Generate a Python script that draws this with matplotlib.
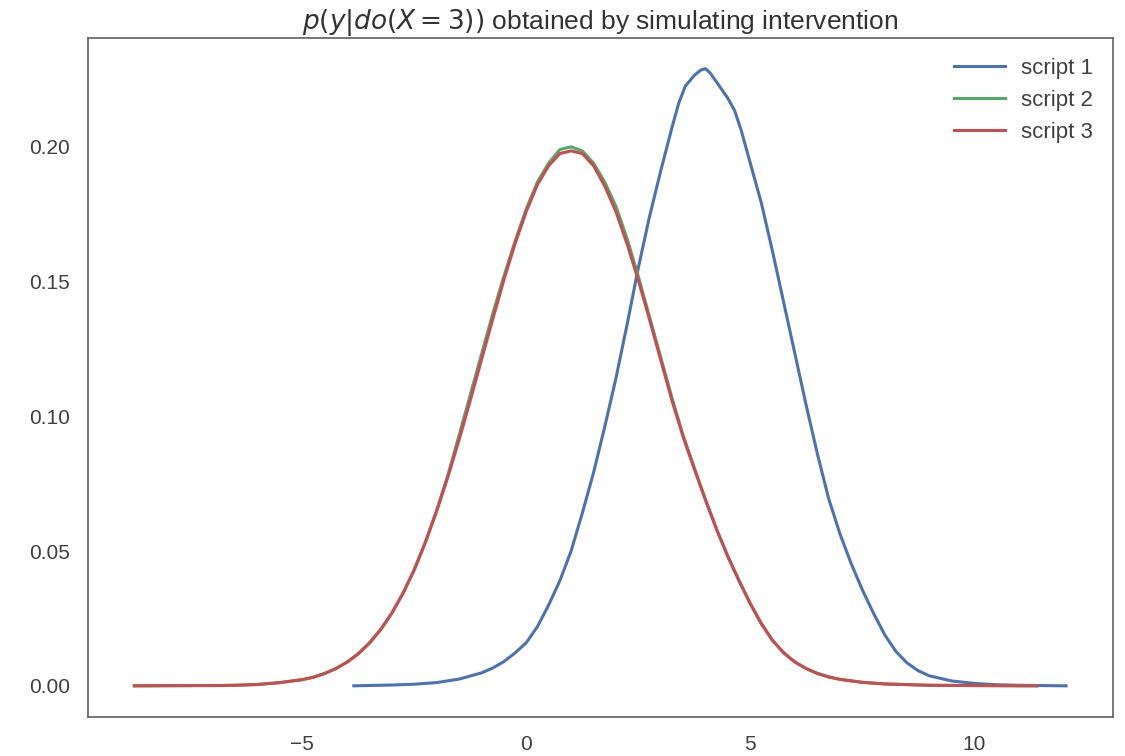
import matplotlib
matplotlib.use("Agg")
from matplotlib import pyplot as plt

# script 1 (blue)
x1 = [-3.85, -3.0, -2.5, -2.0, -1.5, -1.0, -0.75, -0.5, -0.25, 0.0, 0.25, 0.5, 0.75,
      1.0, 1.25, 1.5, 1.75, 2.0, 2.25, 2.5, 2.75, 3.0, 3.25, 3.4, 3.55, 3.75, 3.9,
      4.0, 4.1, 4.25, 4.5, 4.65, 4.8, 5.0, 5.25, 5.5, 5.75, 6.0, 6.25, 6.5, 6.75,
      7.0, 7.25, 7.5, 7.75, 8.0, 8.25, 8.5, 8.75, 9.0, 9.5, 10.0, 10.5, 11.0, 12.05]
y1 = [0.0, 0.0003, 0.0006, 0.0012, 0.0025, 0.0048, 0.0066, 0.009, 0.0122, 0.016,
      0.022, 0.030, 0.039, 0.050, 0.064, 0.079, 0.096, 0.114, 0.134, 0.155, 0.174,
      0.191, 0.207, 0.216, 0.2225, 0.2265, 0.2285, 0.229, 0.2275, 0.224, 0.218,
      0.2135, 0.206, 0.194, 0.179, 0.161, 0.142, 0.123, 0.104, 0.086, 0.0695, 0.0565,
      0.0455, 0.0357, 0.027, 0.019, 0.0128, 0.0085, 0.0056, 0.0037, 0.0018, 0.0009,
      0.0004, 0.0002, 0.0]

# script 2 (green) and script 3 (red)
x23 = [-8.75, -8.0, -7.0, -6.5, -6.0, -5.5, -5.0, -4.75, -4.5, -4.25, -4.0, -3.75,
       -3.5, -3.25, -3.0, -2.75, -2.5, -2.25, -2.0, -1.75, -1.5, -1.25, -1.0, -0.75,
       -0.5, -0.25, 0.0, 0.25, 0.5, 0.75, 1.0, 1.25, 1.5, 1.75, 2.0, 2.25, 2.5, 2.75,
       3.0, 3.25, 3.5, 3.75, 4.0, 4.25, 4.5, 4.75, 5.0, 5.25, 5.5, 5.75, 6.0, 6.25,
       6.5, 6.75, 7.0, 7.5, 8.0, 9.0, 10.0, 11.4]
y2 = [0.0, 0.00005, 0.0001, 0.0002, 0.0005, 0.0012, 0.0023, 0.0032, 0.0046, 0.0064,
      0.0088, 0.0119, 0.0159, 0.0209, 0.0270, 0.0344, 0.0431, 0.0535, 0.0652, 0.0782,
      0.093, 0.108, 0.123, 0.138, 0.152, 0.165, 0.177, 0.187, 0.194, 0.199, 0.200,
      0.1985, 0.194, 0.187, 0.178, 0.166, 0.152, 0.137, 0.122, 0.107, 0.093, 0.081,
      0.069, 0.058, 0.048, 0.039, 0.0305, 0.023, 0.0168, 0.0122, 0.0088, 0.0064,
      0.0046, 0.0033, 0.0024, 0.0013, 0.0007, 0.0002, 0.0001, 0.0]
y3 = [0.0, 0.00005, 0.0001, 0.0002, 0.0005, 0.0012, 0.0023, 0.0032, 0.0046, 0.0064,
      0.0088, 0.0119, 0.0159, 0.0209, 0.0270, 0.0344, 0.0431, 0.0533, 0.0648, 0.0775,
      0.0913, 0.1059, 0.121, 0.136, 0.1506, 0.1641, 0.176, 0.186, 0.193, 0.1975,
      0.1985, 0.1975, 0.193, 0.1855, 0.176, 0.164, 0.1506, 0.136, 0.121, 0.106,
      0.0925, 0.0805, 0.069, 0.058, 0.048, 0.039, 0.0305, 0.023, 0.0168, 0.0122,
      0.0088, 0.0064, 0.0046, 0.0033, 0.0024, 0.0013, 0.0007, 0.0002, 0.0001, 0.0]

labels = ["script 1", "script 2", "script 3"]
colors = ["#4C72B0", "#55A868", "#C44E52"]

plt.rcParams["font.family"] = ["Liberation Sans", "DejaVu Sans"]

fig = plt.figure(figsize=(11.25, 7.56), dpi=100)
ax = fig.add_axes([0.078, 0.052, 0.911, 0.898])

ax.plot(x1, y1, color=colors[0], lw=2.2, label=labels[0])
ax.plot(x23, y2, color=colors[1], lw=2.2, label=labels[1])
ax.plot(x23, y3, color=colors[2], lw=2.2, label=labels[2])

ax.set_xticks([-5, 0, 5, 10])
ax.set_yticks([0.0, 0.05, 0.10, 0.15, 0.20])
ax.tick_params(length=0, labelsize=15, labelcolor="0.25", pad=13)
for s in ax.spines.values():
    s.set_color("0.4")
    s.set_linewidth(1.25)

ax.set_title(r"$p(y|do(X=3))$ obtained by simulating intervention",
             fontsize=19, color="0.2", pad=5)
ax.legend(loc="upper right", frameon=False, fontsize=16, handlelength=2.3,
          handletextpad=0.7, labelspacing=0.5, labelcolor="0.25")

fig.savefig("out.png", dpi=100)
